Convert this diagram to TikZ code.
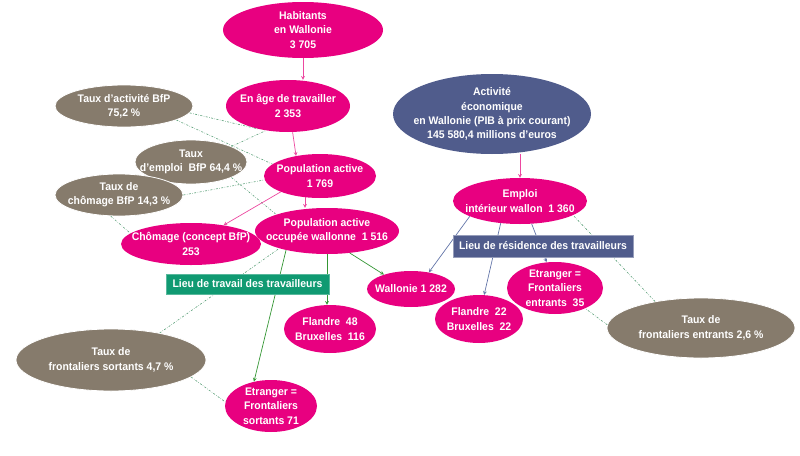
\documentclass[tikz,border=0pt]{standalone}
\usepackage{fontspec}
\setmainfont{Liberation Sans}[FakeStretch=0.95]
\usetikzlibrary{shapes.geometric}
\definecolor{rose}{RGB}{232,0,128}
\definecolor{taupe}{RGB}{134,123,108}
\definecolor{ardoise}{RGB}{80,92,140}
\definecolor{canard}{RGB}{16,154,114}
\definecolor{flrose}{RGB}{236,72,160}
\definecolor{flbleu}{RGB}{98,116,168}
\definecolor{flvert}{RGB}{52,150,52}
\definecolor{pointille}{RGB}{88,158,118}
\begin{document}
\begin{tikzpicture}[>=stealth,x=1pt,y=-1pt,
	every label/.style={text=white,font=\bfseries\fontsize{11}{14.3}\selectfont,align=center,inner sep=0pt},
	bulle/.style={ellipse,fill=rose,inner sep=0pt},
	taux/.style={bulle,fill=taupe,draw=white,line width=0.8pt},
	sz/.style 2 args={minimum width=#1pt,minimum height=#2pt},
	cadre/.style={rectangle,text=white,font=\bfseries\fontsize{11}{13}\selectfont,inner sep=0pt},
	fpop/.style={->,draw=flrose,line width=0.7pt},
	feco/.style={->,draw=flbleu,line width=0.7pt},
	ftrav/.style={->,draw=flvert,line width=0.7pt},
	lien/.style={draw=pointille,line width=0.6pt,dash pattern=on 2pt off 1.5pt on 0.5pt off 1.5pt}]
	\useasboundingbox (0,0) rectangle (800,455);
	% population
	\node[bulle,sz={160}{56},label=center:{Habitants\\en Wallonie\\3 705}] (hab) at (303,30) {};
	\node[bulle,sz={124}{52},label=center:{En âge de travailler\\2 353}] (age) at (288,106) {};
	\node[taux,sz={138}{42},label=center:{Taux d’activité BfP\\75,2 \%}] (tact) at (124,106) {};
	\node[taux,sz={112}{44},label=center:{Taux\\d’emploi \ BfP 64,4 \%}] (temp) at (191,162) {};
	\node[taux,sz={128}{42},label=center:{Taux de\\chômage BfP 14,3 \%}] (tcho) at (119,195) {};
	\node[bulle,sz={112}{44},label=center:{Population active\\1 769}] (act) at (320,176) {};
	\node[bulle,sz={140}{42},label=center:{Chômage (concept BfP)\\253}] (chom) at (191,244) {};
	\node[bulle,sz={144}{46},label=center:{Population active\\occupée wallonne \ 1 516}] (occ) at (327,231) {};
	\node[bulle,sz={92}{48},label=center:{Flandre \ 48\\Bruxelles \ 116}] (fl1) at (330,329) {};
	\node[bulle,sz={92}{52},label=center:{Etranger =\\Frontaliers\\sortants 71}] (etrs) at (271,406) {};
	\node[taux,sz={190}{62},label=center:{Taux de\\frontaliers sortants 4,7 \%}] (tfs) at (111,360) {};
	% economie
	\node[bulle,fill=ardoise,sz={198}{80},label=center:{Activité\\économique\\en Wallonie (PIB à prix courant)\\145 580,4 millions d'euros}] (eco) at (492,114) {};
	\node[bulle,sz={134}{46},label=center:{Emploi\\intérieur wallon \ 1 360}] (emp) at (520,201) {};
	\node[bulle,sz={88}{36},label=center:{Wallonie 1 282}] (wal) at (411,289) {};
	\node[bulle,sz={88}{48},label=center:{Flandre \ 22\\Bruxelles \ 22}] (fl2) at (479,319) {};
	\node[bulle,sz={96}{52},label=center:{Etranger =\\Frontaliers\\entrants \ 35}] (etre) at (555,288) {};
	\node[taux,sz={188}{60},label=center:{Taux de\\frontaliers entrants 2,6 \%}] (tfe) at (701,328) {};
	% liens des taux
	\draw[lien] (tact.-6) -- (age.218);
	\draw[lien] (tact.-15) -- (act.166);
	\draw[lien] (temp.21) -- (age.228);
	\draw[lien] (temp.-21) -- (occ.162);
	\draw[lien] (tcho.0) -- (act.184);
	\draw[lien] (tcho.-111) -- (chom.170);
	\draw[lien] (tfs.29) -- (occ.200);
	\draw[lien] (tfs.-12) -- (etrs.175);
	\draw[lien] (tfe.150) -- (emp.-15);
	\draw[lien] (tfe.178) -- (etre.-34);
	% fleches
	\draw[fpop] (hab.south) -- (hab.south |- age.north);
	\draw[fpop] (age.-80) -- (act.140);
	\draw[fpop] (act.-125) -- (act.-125 |- occ.north);
	\draw[fpop] (act.202) -- (chom.30);
	\draw[fpop] (emp.north |- eco.south) -- (emp.north);
	\draw[feco] (emp.197) -- (wal.43);
	\draw[feco] (emp.229) -- (fl2.78);
	\draw[feco] (emp.-63) -- (etre.108);
	\draw[ftrav] (occ.-44) -- (wal.152);
	\draw[ftrav] (occ.south) -- (occ.south |- fl1.north);
	\draw[ftrav] (occ.205) -- (etrs.125);
	% cadres
	\node[cadre,fill=ardoise,draw=ardoise!60!white,minimum width=180pt,minimum height=22pt] (res) at (543,246) {Lieu de résidence des travailleurs};
	\node[cadre,fill=canard,draw=canard!70!white,minimum width=163pt,minimum height=20pt] (trav) at (247.5,284) {Lieu de travail des travailleurs};
\end{tikzpicture}
\end{document}
